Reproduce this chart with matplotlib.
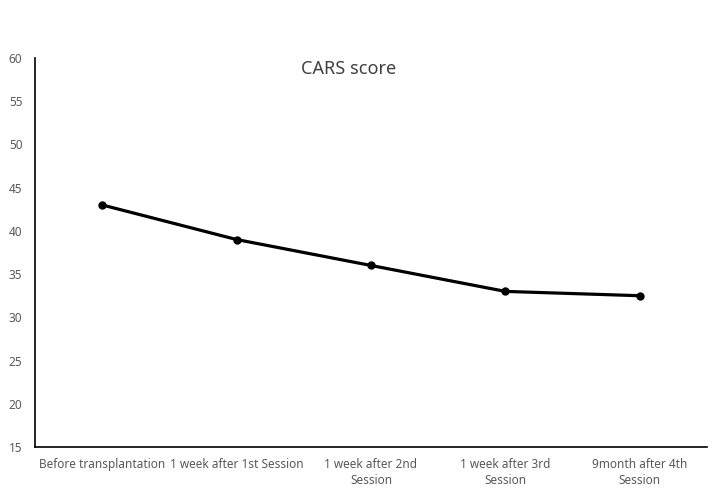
import matplotlib.pyplot as plt

categories = [
    'Before transplantation',
    '1 week after 1st Session',
    '1 week after 2nd\nSession',
    '1 week after 3rd\nSession',
    '9month after 4th\nSession',
]
scores = [43, 39, 36, 33, 32.5]
y_ticks = [15, 20, 25, 30, 35, 40, 45, 50, 55, 60]

plt.rcParams['font.family'] = ['Noto Sans', 'DejaVu Sans']

fig = plt.figure(figsize=(7.21, 4.97), dpi=100)
ax = fig.add_axes([0.0485, 0.1006, 0.9321, 0.7827])

x = list(range(len(categories)))
ax.plot(x, scores, color='black', linewidth=2.3, marker='o', markersize=5)

ax.set_xlim(-0.5, len(categories) - 0.5)
ax.set_ylim(15, 60)
ax.set_yticks(y_ticks)
ax.set_xticks(x)
ax.set_xticklabels(categories, linespacing=1.3)

for side in ['top', 'right']:
    ax.spines[side].set_visible(False)
ax.spines['left'].set_linewidth(1.2)
ax.spines['bottom'].set_linewidth(1.2)

ax.tick_params(axis='both', length=0, labelsize=8.5, labelcolor='#595959')
ax.tick_params(axis='y', pad=9)
ax.tick_params(axis='x', pad=8)

fig.text(0.483, 0.862, 'CARS score', fontsize=13, color='#404040',
         ha='center', va='center')

fig.savefig('out.png', dpi=100)
